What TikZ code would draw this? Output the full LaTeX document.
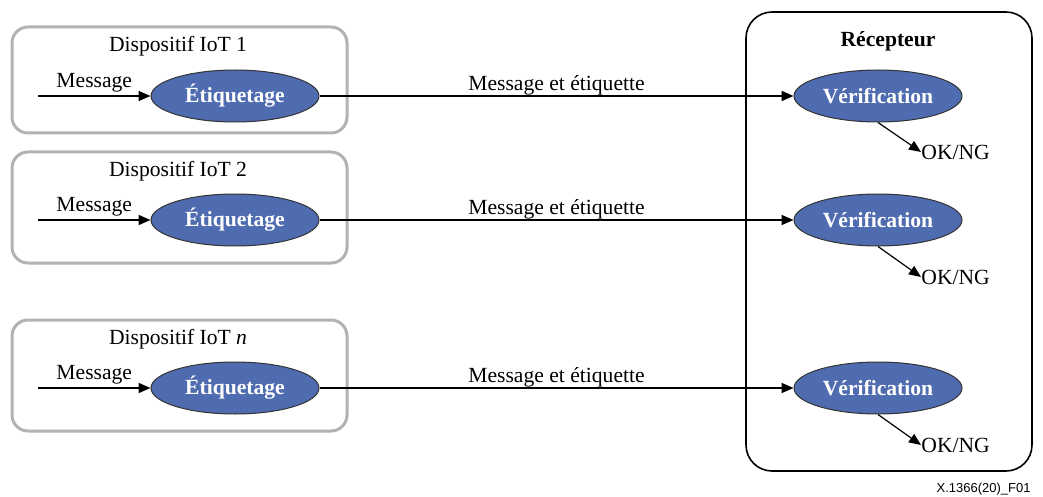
\documentclass[tikz,border=0pt]{standalone}
\usepackage{fontspec}
\setmainfont{Liberation Serif}
\newfontfamily\figfont{Liberation Sans}
\usetikzlibrary{shapes.geometric,arrows.meta}

\definecolor{ellblue}{RGB}{80,108,176}
\definecolor{boxgray}{RGB}{178,178,178}

\begin{document}
\begin{tikzpicture}[x=0.5pt,y=-0.5pt,
    every node/.style={font=\fontsize{10.8}{13}\selectfont},
    devbox/.style={draw=boxgray, line width=1.5pt, rounded corners=8pt},
    recbox/.style={draw=black, line width=0.8pt, rounded corners=13pt},
    proc/.style={ellipse, draw=black!80, line width=0.5pt, fill=ellblue, text=white,
      font=\fontsize{10.8}{13}\selectfont\bfseries, minimum width=84pt, minimum height=26pt, inner sep=0pt},
    flow/.style={-{Triangle[length=6pt,width=5pt]}, line width=0.9pt},
    res/.style={-{Triangle[length=6pt,width=5pt]}, line width=0.6pt}]
    \useasboundingbox (0,0) rectangle (1043,497);

    % Dispositifs
    \draw[devbox] (12,27) rectangle (347,133);
    \draw[devbox] (12,152) rectangle (347,263);
    \draw[devbox] (12,320) rectangle (347,431);
    \node (dev1) at (178,46) {Dispositif IoT 1};
    \node (dev2) at (178,171) {Dispositif IoT 2};
    \node (devn) at (178,339) {Dispositif IoT \textit{n}};

    % Recepteur
    \draw[recbox] (746,12) rectangle (1032,471);
    \node[font=\fontsize{10.8}{13}\selectfont\bfseries] (rec) at (888,41) {Récepteur};

    % Etiquetage et verification
    \node[proc] (et1) at (235,96) {Étiquetage};
    \node[proc] (et2) at (235,220) {Étiquetage};
    \node[proc] (etn) at (235,388) {Étiquetage};
    \node[proc] (ve1) at (878,96) {Vérification};
    \node[proc] (ve2) at (878,220) {Vérification};
    \node[proc] (ven) at (878,388) {Vérification};

    % Messages entrants
    \coordinate (in1) at (38,96);
    \coordinate (in2) at (38,220);
    \coordinate (inn) at (38,388);
    \draw[flow] (in1) -- node[midway,above=-2pt] (msg1) {Message} (et1);
    \draw[flow] (in2) -- node[midway,above=-2pt] (msg2) {Message} (et2);
    \draw[flow] (inn) -- node[midway,above=-2pt] (msgn) {Message} (etn);

    % Message et etiquette vers le recepteur
    \draw[flow] (et1) -- node[midway,above=-3.5pt] (lab1) {Message et étiquette} (ve1);
    \draw[flow] (et2) -- node[midway,above=-3.5pt] (lab2) {Message et étiquette} (ve2);
    \draw[flow] (etn) -- node[midway,above=-3.5pt] (labn) {Message et étiquette} (ven);

    % Resultats
    \node[anchor=west, inner sep=0pt] (ok1) at (921,152) {OK/NG};
    \node[anchor=west, inner sep=0pt] (ok2) at (921,277) {OK/NG};
    \node[anchor=west, inner sep=0pt] (okn) at (921,445) {OK/NG};
    \draw[res] (ve1.south) -- (ok1.west);
    \draw[res] (ve2.south) -- (ok2.west);
    \draw[res] (ven.south) -- (okn.west);

    \node[anchor=east, inner sep=0pt, font=\figfont\fontsize{6.5}{8}\selectfont] (fig) at (1031,489) {X.1366(20)\_F01};
\end{tikzpicture}
\end{document}
